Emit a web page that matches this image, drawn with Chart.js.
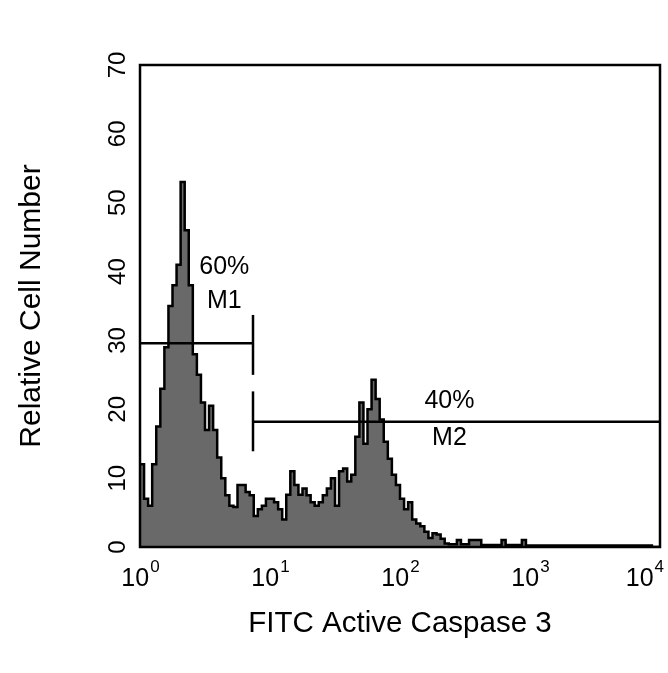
<!DOCTYPE html>
<html>
<head>
<meta charset="utf-8">
<script src="https://cdn.jsdelivr.net/npm/chart.js@4.4.1/dist/chart.umd.min.js"></script>
<style>
  body { margin: 0; background: #fff; }
  #wrap { width: 668px; height: 673px; }
</style>
</head>
<body>
<div id="wrap"><canvas id="chartFacs"></canvas></div>
<script>
// histogram: 128 log channels spread over 4 decades (10^0 .. 10^4)
const decades = 4;
const cellCounts = [
  12, 7, 6, 12, 17.5, 23, 29, 35, 38, 41,
  53, 46, 38, 28, 25, 21, 17, 20.5, 17, 13,
  10, 7.5, 6, 5.8, 9, 9, 8, 7.5, 4.5, 5.5,
  6, 7, 7, 6.5, 5.5, 4, 7.6, 11, 9, 7.6,
  8.5, 7.5, 6.5, 6, 6.5, 7.5, 8.5, 10, 6, 11,
  11.4, 9.5, 10.5, 16, 21, 15, 20, 24.3, 21.5, 18.5,
  15.3, 12.8, 10.5, 9, 7, 5.5, 6.5, 4, 3.4, 3,
  2.2, 1.3, 2, 1.8, 1.2, 0.5, 0.4, 0.4, 1, 0.4,
  0.4, 1, 1, 1, 0.3, 0.3, 0.3, 0.3, 0.3, 1,
  0.3, 0.3, 0.3, 0.3, 1, 0.2, 0.2, 0.2, 0.2, 0.2,
  0.2, 0.2, 0.2, 0.2, 0.2, 0.2, 0.2, 0.2, 0.2, 0.2,
  0.2, 0.2, 0.2, 0.2, 0.2, 0.2, 0.2, 0.2, 0.2, 0.2,
  0.2, 0.2, 0.2, 0.2, 0.2, 0.2, 0, 0
];

const yTicks = [0, 10, 20, 30, 40, 50, 60, 70];
const xTickExponents = [0, 1, 2, 3, 4];

// marker gates
const gateNames = ["M1", "M2"];
const gatePercents = ["60%", "40%"];
const gateStart = [1, 7.4];
const gateEnd = [7.4, 10000];
const gateLevel = [29.6, 18.2];
const gateBarLow = [25, 13.9];
const gateBarHigh = [33.7, 22.6];
// where the gate texts sit (data units)
const gateTextX = [4.45, 240];
const gatePercentY = [40.7, 21.2];
const gateNameY = [35.7, 15.8];

const fontFamily = '"Liberation Sans", Arial, Helvetica, sans-serif';
Chart.defaults.font.family = fontFamily;
Chart.defaults.color = "#000";

const histPoints = cellCounts.map((c, i) => ({ x: Math.pow(10, i * decades / cellCounts.length), y: c }));
histPoints.push({ x: Math.pow(10, decades), y: cellCounts[cellCounts.length - 1] });

const datasets = [];
for (let g = 0; g < gateNames.length; g++) {
  // bar sits at the inner boundary between M1 and M2
  const barX = g === 0 ? gateEnd[g] : gateStart[g];
  datasets.push({
    label: gateNames[g],
    data: [{ x: gateStart[g], y: gateLevel[g] }, { x: gateEnd[g], y: gateLevel[g] }],
    borderColor: "#000", borderWidth: 2.5, pointRadius: 0, fill: false, order: 0
  });
  datasets.push({
    label: gateNames[g] + " bar",
    data: [{ x: barX, y: gateBarLow[g] }, { x: barX, y: gateBarHigh[g] }],
    borderColor: "#000", borderWidth: 2.5, pointRadius: 0, fill: false, order: 0
  });
}
datasets.push({
  label: "Cells",
  data: histPoints,
  stepped: true,
  fill: "origin",
  backgroundColor: "#696969",
  borderColor: "#000",
  borderWidth: 2.5,
  pointRadius: 0,
  order: 5
});

const decorPlugin = {
  id: "decor",
  afterDatasetsDraw(chart) {
    const ctx = chart.ctx;
    const xs = chart.scales.x, ys = chart.scales.y;
    ctx.save();
    ctx.fillStyle = "#000";
    ctx.textAlign = "center";
    ctx.textBaseline = "middle";
    ctx.font = "25px " + fontFamily;
    for (let g = 0; g < gateNames.length; g++) {
      const px = xs.getPixelForValue(gateTextX[g]);
      ctx.fillText(gatePercents[g], px, ys.getPixelForValue(gatePercentY[g]));
      ctx.fillText(gateNames[g], px, ys.getPixelForValue(gateNameY[g]));
    }
    ctx.restore();
  },
  afterDraw(chart) {
    const ctx = chart.ctx;
    const area = chart.chartArea;
    const xs = chart.scales.x, ys = chart.scales.y;
    ctx.save();
    // frame
    ctx.strokeStyle = "#000";
    ctx.lineWidth = 2.5;
    ctx.strokeRect(area.left, area.top, area.right - area.left, area.bottom - area.top);

    // y tick labels, rotated
    ctx.fillStyle = "#000";
    ctx.font = "24px " + fontFamily;
    ctx.textAlign = "center";
    ctx.textBaseline = "middle";
    yTicks.forEach(v => {
      const py = ys.getPixelForValue(v);
      ctx.save();
      ctx.translate(area.left - 22, py);
      ctx.rotate(-Math.PI / 2);
      ctx.fillText(String(v), 0, 0);
      ctx.restore();
    });

    // x tick labels 10^n
    ctx.textAlign = "left";
    ctx.textBaseline = "alphabetic";
    xTickExponents.forEach(e => {
      const px = xs.getPixelForValue(Math.pow(10, e));
      ctx.font = "25px " + fontFamily;
      const wBase = ctx.measureText("10").width;
      ctx.font = "17px " + fontFamily;
      const wSup = ctx.measureText(String(e)).width;
      let left = px - (wBase + wSup) / 2;
      if (left + wBase + wSup > chart.width - 5) left = chart.width - 5 - wBase - wSup;
      ctx.font = "25px " + fontFamily;
      ctx.fillText("10", left, 586);
      ctx.font = "17px " + fontFamily;
      ctx.fillText(String(e), left + wBase + 1, 572);
    });
    ctx.restore();
  }
};

new Chart(document.getElementById("chartFacs"), {
  type: "line",
  data: { datasets: datasets },
  options: {
    responsive: true,
    maintainAspectRatio: false,
    animation: false,
    layout: { padding: { top: 65, right: 8, left: 0, bottom: 0 } },
    plugins: { legend: { display: false }, tooltip: { enabled: false } },
    scales: {
      x: {
        type: "logarithmic",
        min: 1,
        max: 10000,
        grid: { display: false },
        border: { display: false },
        ticks: { display: false },
        title: {
          display: true,
          text: "FITC Active Caspase 3",
          font: { size: 29.5 },
          color: "#000",
          padding: { top: 0, bottom: 31 }
        },
        afterFit: s => { s.height = 126; }
      },
      y: {
        type: "linear",
        min: 0,
        max: 70,
        grid: { display: false },
        border: { display: false },
        ticks: { display: false },
        title: {
          display: true,
          text: "Relative Cell Number",
          font: { size: 30 },
          color: "#000",
          padding: { top: 14, bottom: 0 }
        },
        afterFit: s => { s.width = 140; }
      }
    }
  },
  plugins: [decorPlugin]
});
</script>
</body>
</html>
